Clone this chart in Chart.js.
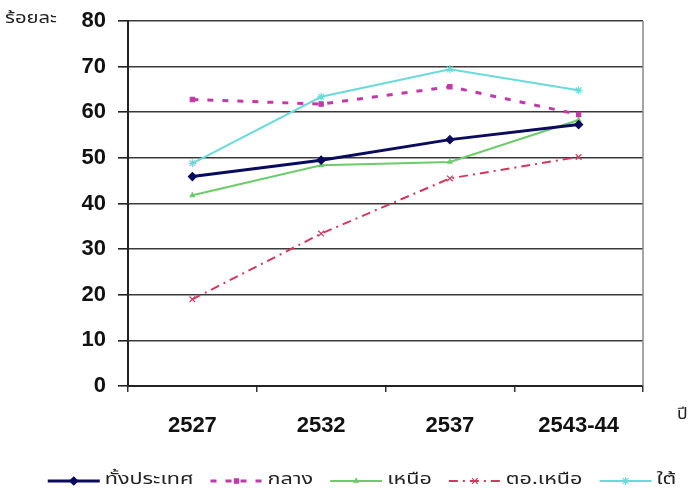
<!DOCTYPE html>
<html>
<head>
<meta charset="utf-8">
<script src="https://cdn.jsdelivr.net/npm/chart.js@4/dist/chart.umd.min.js"></script>
<style>
  html, body { margin: 0; padding: 0; background: #ffffff; }
  #wrap { width: 690px; height: 496px; position: relative; }
</style>
</head>
<body>
<div id="wrap"><canvas id="c" width="690" height="496"></canvas></div>
<script>
// Survey years (Buddhist era)
const years = ['2527', '2532', '2537', '2543-44'];
const yTicks = [0, 10, 20, 30, 40, 50, 60, 70, 80];

// Percentage by region
const wholeCountry = [45.9, 49.5, 54.0, 57.3];
const central      = [62.8, 61.8, 65.6, 59.5];
const north        = [41.8, 48.4, 49.1, 58.3];
const northeast    = [19.0, 33.4, 45.5, 50.2];
const south        = [48.8, 63.4, 69.4, 64.8];

const seriesNames = ['ทั้งประเทศ', 'กลาง', 'เหนือ', 'ตอ.เหนือ', 'ใต้'];

const THAI = '"Noto Sans Thai", "Noto Sans", "DejaVu Sans", sans-serif';
const NUM = '"Liberation Sans", Arial, sans-serif';

function makeSet(label, data, color, width, dash, style, radius) {
  return {
    label, data,
    borderColor: color, backgroundColor: color,
    borderWidth: width, borderDash: dash,
    pointStyle: style, pointRadius: radius, pointHoverRadius: radius,
    pointBorderColor: color, pointBackgroundColor: color, pointBorderWidth: 1.2,
    tension: 0, fill: false
  };
}

const datasets = [
  makeSet(seriesNames[0], wholeCountry, '#0a0a5e', 3, [], 'rectRot', 4),
  makeSet(seriesNames[1], central, '#c03aa8', 3, [6, 9], 'rect', 3),
  makeSet(seriesNames[2], north, '#6ccc6c', 2, [], 'triangle', 2.5),
  makeSet(seriesNames[3], northeast, '#d0385e', 2, [9, 5, 2, 5], 'crossRot', 4),
  makeSet(seriesNames[4], south, '#6adada', 2, [], 'star', 4)
];

// Wide Thai lettering: draw text stretched horizontally
function wideText(ctx, text, x, y, stretch) {
  ctx.save();
  ctx.translate(x, y);
  ctx.scale(stretch, 1);
  ctx.fillText(text, 0, 0);
  ctx.restore();
  return ctx.measureText(text).width * stretch;
}

// Axis unit labels, right frame line and a legend of line samples with markers
const extras = {
  id: 'extras',
  afterDraw(chart) {
    const { ctx, chartArea, scales } = chart;
    ctx.save();
    ctx.strokeStyle = '#8a8a8a'; ctx.lineWidth = 1.5;
    ctx.beginPath();
    ctx.moveTo(chartArea.right, chartArea.top);
    ctx.lineTo(chartArea.right, chartArea.bottom);
    ctx.stroke();

    ctx.fillStyle = '#222';
    ctx.textBaseline = 'middle';
    ctx.textAlign = 'left';
    ctx.font = '15px ' + THAI;
    wideText(ctx, 'ร้อยละ', 5, scales.y.getPixelForValue(80) - 1, 1.35);
    ctx.font = '16px ' + THAI;
    wideText(ctx, 'ปี', 677, 416, 1.1);

    // legend
    const stretch = 1.35, sampleW = 52, gapText = 5, gapItem = 17, cy = 481;
    ctx.font = '16px ' + THAI;
    const widths = chart.data.datasets.map(ds => ctx.measureText(ds.label).width * stretch);
    const total = widths.reduce((a, b) => a + b, 0) + chart.data.datasets.length * (sampleW + gapText) + (chart.data.datasets.length - 1) * gapItem;
    let x = (chart.width - total) / 2 + 17;
    chart.data.datasets.forEach((ds, i) => {
      ctx.save();
      ctx.strokeStyle = ds.borderColor;
      ctx.lineWidth = ds.borderWidth;
      ctx.setLineDash(ds.borderDash);
      ctx.beginPath(); ctx.moveTo(x, cy); ctx.lineTo(x + sampleW, cy); ctx.stroke();
      ctx.setLineDash([]);
      ctx.fillStyle = ds.pointBackgroundColor;
      ctx.strokeStyle = ds.pointBorderColor;
      ctx.lineWidth = 1.2;
      Chart.helpers.drawPoint(ctx, { pointStyle: ds.pointStyle, radius: ds.pointRadius, rotation: 0, borderWidth: 1.2 }, x + sampleW / 2, cy);
      ctx.restore();
      x += sampleW + gapText;
      ctx.fillStyle = '#222';
      wideText(ctx, ds.label, x, cy, stretch);
      x += widths[i] + gapItem;
    });
    ctx.restore();
  }
};

new Chart(document.getElementById('c'), {
  type: 'line',
  data: { labels: years, datasets },
  plugins: [extras],
  options: {
    responsive: false,
    animation: false,
    devicePixelRatio: 1,
    layout: { padding: { left: 0, right: 47, top: 21, bottom: 60 } },
    plugins: {
      tooltip: { enabled: false },
      legend: { display: false }
    },
    scales: {
      x: {
        offset: true,
        grid: { offset: true, drawOnChartArea: false, drawTicks: true, tickLength: 6, color: '#333', lineWidth: 1.5 },
        border: { color: '#222', width: 2 },
        ticks: { color: '#111', padding: 21, font: { family: NUM, size: 22, weight: 'bold' } },
        afterFit(s) { s.height = 50; }
      },
      y: {
        min: 0, max: 80,
        afterBuildTicks(s) { s.ticks = yTicks.map(v => ({ value: v })); },
        grid: { color: '#3a3a3a', lineWidth: 1.6, tickLength: 10, tickColor: '#222' },
        border: { color: '#222', width: 2 },
        ticks: { color: '#111', padding: 12, font: { family: NUM, size: 22, weight: 'bold', lineHeight: 0.9 } },
        afterFit(s) { s.width = 128; s.paddingTop = 10; }
      }
    }
  }
});
</script>
</body>
</html>
